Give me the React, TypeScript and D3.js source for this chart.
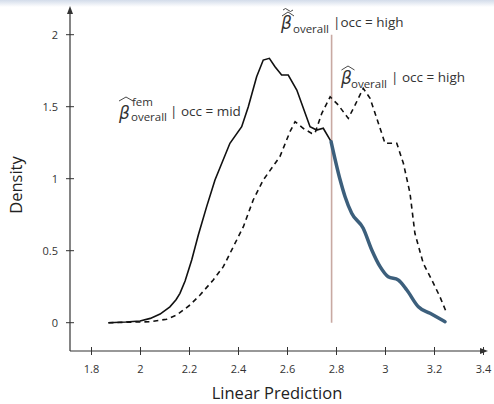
import React from "react";
import * as d3 from "d3";

const solidX = [1.869, 1.94, 1.998, 2.04, 2.08, 2.12, 2.145, 2.161, 2.182, 2.209, 2.236, 2.27, 2.304, 2.365, 2.413, 2.44, 2.474, 2.501, 2.526, 2.549, 2.576, 2.603, 2.638, 2.692, 2.719, 2.746, 2.778];
const solidY = [0, 0.005, 0.012, 0.03, 0.06, 0.11, 0.16, 0.204, 0.29, 0.435, 0.609, 0.806, 0.991, 1.246, 1.361, 1.5, 1.708, 1.824, 1.836, 1.778, 1.72, 1.72, 1.616, 1.361, 1.338, 1.35, 1.257];
const blueX = [2.778, 2.815, 2.835, 2.862, 2.909, 2.944, 2.978, 3.011, 3.052, 3.087, 3.134, 3.182, 3.243];
const blueY = [1.257, 0.991, 0.875, 0.76, 0.656, 0.505, 0.389, 0.319, 0.297, 0.227, 0.111, 0.065, 0.007];
const dashX = [1.869, 2.039, 2.107, 2.148, 2.202, 2.243, 2.297, 2.338, 2.379, 2.42, 2.46, 2.501, 2.569, 2.61, 2.631, 2.664, 2.699, 2.712, 2.74, 2.774, 2.807, 2.848, 2.876, 2.909, 2.937, 2.971, 2.998, 3.046, 3.073, 3.1, 3.12, 3.154, 3.189, 3.222, 3.25];
const dashY = [0, 0.007, 0.024, 0.053, 0.123, 0.192, 0.297, 0.389, 0.528, 0.667, 0.852, 0.991, 1.153, 1.326, 1.396, 1.35, 1.315, 1.315, 1.454, 1.569, 1.512, 1.419, 1.512, 1.628, 1.558, 1.385, 1.246, 1.246, 1.107, 0.899, 0.621, 0.413, 0.297, 0.181, 0.065];
const xTicks = [1.8, 2, 2.2, 2.4, 2.6, 2.8, 3, 3.2, 3.4];
const xTickLabels = ["1.8", "2", "2.2", "2.4", "2.6", "2.8", "3", "3.2", "3.4"];
const yTicks = [0, 0.5, 1, 1.5, 2];
const yTickLabels = ["0", "0.5", "1", "1.5", "2"];
const vlineX = 2.78;

const FONT = "'Open Sans', sans-serif";
const BFONT = "'DejaVu Sans', sans-serif";

export default function App() {
  const x = d3.scaleLinear().domain([1.8, 3.4]).range([91.5, 483.5]);
  const y = d3.scaleLinear().domain([0, 2]).range([322.7, 34.7]);
  const axisY = 351;
  const axisX = 70;
  const line = d3.line<[number, number]>().x((d) => x(d[0])).y((d) => y(d[1]));
  const smooth = d3.line<[number, number]>().x((d) => x(d[0])).y((d) => y(d[1])).curve(d3.curveMonotoneX);
  const solid = solidX.map((v, i) => [v, solidY[i]] as [number, number]);
  const blue = blueX.map((v, i) => [v, blueY[i]] as [number, number]);
  const dashed = dashX.map((v, i) => [v, dashY[i]] as [number, number]);

  const hat = (cx: number, top: number, w: number) =>
    `M${cx - w / 2},${top + 4} L${cx},${top} L${cx + w / 2},${top + 4}`;

  return (
    <svg width={494} height={404} style={{ position: "absolute", left: 0, top: 0, background: "#fff" }}>
      <defs>
        <linearGradient id="band" x1="0" y1="0" x2="0" y2="1">
          <stop offset="0" stopColor="#d3dcea" />
          <stop offset="1" stopColor="#ffffff" />
        </linearGradient>
      </defs>
      <rect x={0} y={0} width={494} height={7} fill="url(#band)" />

      {/* axes */}
      <line x1={axisX} y1={axisY} x2={axisX} y2={10} stroke="#333" strokeWidth={1.2} />
      <path d={`M${axisX - 3},14 L${axisX},6 L${axisX + 3},14 Z`} fill="#333" />
      <line x1={axisX} y1={axisY} x2={484} y2={axisY} stroke="#333" strokeWidth={1.2} />
      <path d={`M480,${axisY - 3} L488,${axisY} L480,${axisY + 3} Z`} fill="#333" />
      {xTicks.map((t, i) => (
        <g key={"xt" + i}>
          <line x1={x(t)} x2={x(t)} y1={axisY - 4} y2={axisY + 4} stroke="#333" strokeWidth={1} />
          <text x={x(t)} y={axisY + 22} textAnchor="middle" fontFamily={FONT} fontSize={11} fill="#333">
            {xTickLabels[i]}
          </text>
        </g>
      ))}
      {yTicks.map((t, i) => (
        <g key={"yt" + i}>
          <line x1={axisX - 4} x2={axisX + 4} y1={y(t)} y2={y(t)} stroke="#333" strokeWidth={1} />
          <text x={axisX - 12} y={y(t) + 4} textAnchor="end" fontFamily={FONT} fontSize={11} fill="#333">
            {yTickLabels[i]}
          </text>
        </g>
      ))}
      <text x={277} y={399} textAnchor="middle" fontFamily={FONT} fontSize={16.5} fill="#222">
        Linear Prediction
      </text>
      <text transform="translate(22,185) rotate(-90)" textAnchor="middle" fontFamily={FONT} fontSize={16.5} fill="#222">
        Density
      </text>

      {/* vertical line */}
      <line x1={x(vlineX)} x2={x(vlineX)} y1={y(0)} y2={y(2)} stroke="#c8a9a2" strokeWidth={1.6} />

      {/* curves */}
      <path d={line(dashed) ?? ""} fill="none" stroke="#111" strokeWidth={1.6} strokeDasharray="5,4" />
      <path d={line(solid) ?? ""} fill="none" stroke="#111" strokeWidth={1.6} />
      <path d={smooth(blue) ?? ""} fill="none" stroke="#3c5f7c" strokeWidth={3.5} strokeLinecap="round" />

      {/* label mid */}
      <g fontFamily={FONT} fill="#333">
        <text x={119} y={119} fontSize={17} fontStyle="italic" fontFamily={BFONT}>β</text>
        <path d={hat(126, 97, 14)} fill="none" stroke="#333" strokeWidth={0.9} />
        <text x={132} y={106} fontSize={11.5}>fem</text>
        <text x={131} y={121} fontSize={11.5}>overall</text>
        <text x={170} y={116} fontSize={13.5}>| occ = mid</text>
      </g>

      {/* label top */}
      <g fontFamily={FONT} fill="#333">
        <text x={281} y={29} fontSize={17} fontStyle="italic" fontFamily={BFONT}>β</text>
        <path d={hat(288, 12, 12)} fill="none" stroke="#333" strokeWidth={0.9} />
        <path d="M283,10 q2.5,-3 5,0 t5,0" fill="none" stroke="#333" strokeWidth={0.9} />
        <text x={293} y={33} fontSize={11.5}>overall</text>
        <text x={333} y={27} fontSize={13.5}>|occ = high</text>
      </g>

      {/* label right */}
      <g fontFamily={FONT} fill="#333">
        <text x={341} y={84} fontSize={17} fontStyle="italic" fontFamily={BFONT}>β</text>
        <path d={hat(348, 66, 13)} fill="none" stroke="#333" strokeWidth={0.9} />
        <text x={351} y={88} fontSize={11.5}>overall</text>
        <text x={391} y={82} fontSize={13.5}>| occ = high</text>
      </g>
    </svg>
  );
}
